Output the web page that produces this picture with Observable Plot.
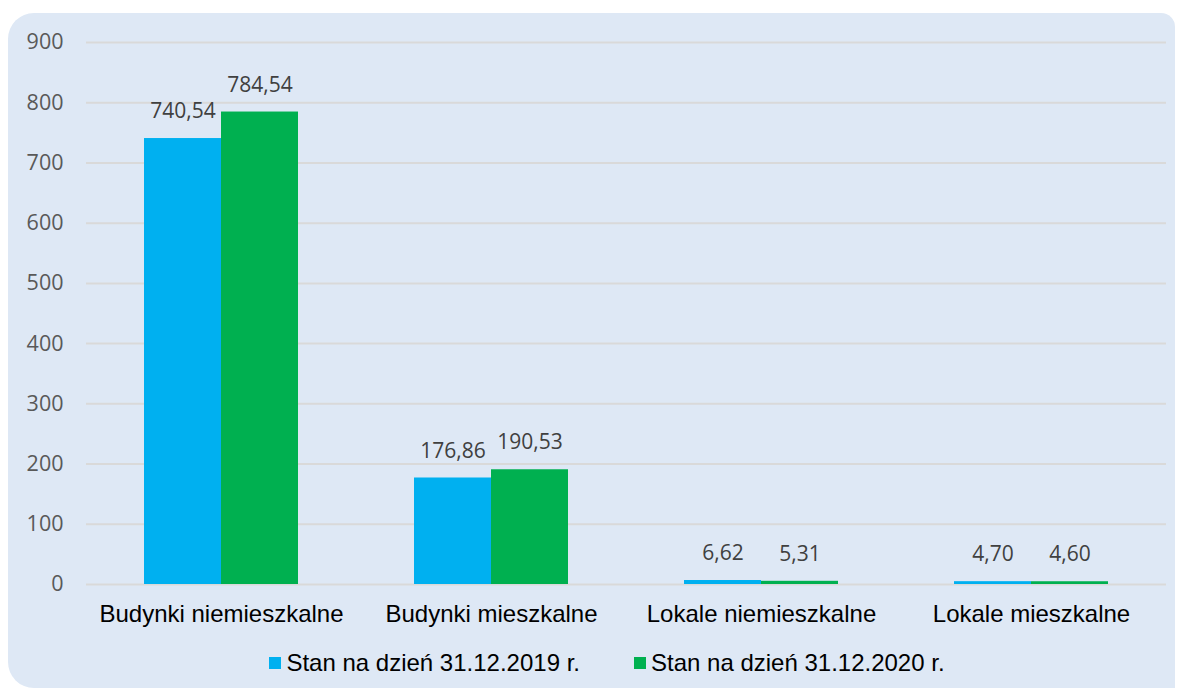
<!DOCTYPE html>
<html><head><meta charset="utf-8">
<script src="https://cdn.jsdelivr.net/npm/d3@7"></script>
<script src="https://cdn.jsdelivr.net/npm/@observablehq/plot@0.6"></script>
<style>
body{margin:0;background:#fff;width:1181px;height:692px;overflow:hidden;}
#card{position:absolute;left:8px;top:13px;width:1167px;height:675px;background:#dee8f5;border-radius:26px 14px 0 26px;}
#chart svg{display:block;}
#chart g[aria-label="fx-axis tick label"] text{fill:#000;}
#legend{position:absolute;left:0;top:636px;width:1167px;display:flex;justify-content:center;gap:54px;font-family:"Liberation Sans",Arial,sans-serif;font-size:24px;line-height:28px;color:#000;padding-left:31px;box-sizing:border-box;}
#legend .item{display:flex;align-items:center;gap:5px;}
#legend .sw{width:12px;height:12px;display:inline-block;}
</style></head>
<body>
<div id="card"><div id="chart"></div><div id="legend"></div></div>
<script>
const categories = ["Budynki niemieszkalne","Budynki mieszkalne","Lokale niemieszkalne","Lokale mieszkalne"];
const series = ["Stan na dzień 31.12.2019 r.","Stan na dzień 31.12.2020 r."];
const values2019 = [740.54,176.86,6.62,4.70];
const values2020 = [784.54,190.53,5.31,4.60];
const yTicks = [0,100,200,300,400,500,600,700,800,900];
const colors = ["#00b0f0","#00b050"];

const data = [];
categories.forEach((c,i)=>{
  data.push({category:c, series:series[0], value:values2019[i]});
  data.push({category:c, series:series[1], value:values2020[i]});
});
const fmt = v => d3.format(".2f")(v).replace(".", ",");

const chart = Plot.plot({
  width:1167, height:615,
  marginLeft:77, marginRight:9, marginTop:29, marginBottom:44,
  style:{background:"transparent", fontFamily:"'Open Sans', sans-serif", fontSize:"21px", color:"#595959"},
  fx:{domain:categories, padding:0, label:null},
  x:{domain:series, axis:null, paddingInner:0, paddingOuter:0.74},
  y:{domain:[0,900], label:null},
  color:{domain:series, range:colors},
  marks:[
    Plot.ruleY(yTicks,{stroke:"#d9d9d9", strokeWidth:2}),
    Plot.barY(data,{fx:"category", x:"series", y:"value", fill:"series"}),
    Plot.text(data,{fx:"category", x:"series", y:"value", text:d=>fmt(d.value), dy:-27, fill:"#404040", fontSize:21}),
    Plot.axisY({ticks:yTicks, tickSize:0, tickPadding:23, label:null, fill:"#595959", fontSize:21.5}),
    Plot.axisFx({anchor:"bottom", tickSize:0, tickPadding:20, label:null, fontSize:24, fontFamily:"'Liberation Sans', Arial, sans-serif", fill:"#000"})
  ]
});
document.getElementById("chart").appendChild(chart);

const legend = document.getElementById("legend");
series.forEach((s,i)=>{
  const it = document.createElement("div"); it.className="item";
  const sw = document.createElement("span"); sw.className="sw"; sw.style.background=colors[i];
  const tx = document.createElement("span"); tx.textContent=s;
  it.appendChild(sw); it.appendChild(tx); legend.appendChild(it);
});
</script>
</body></html>
